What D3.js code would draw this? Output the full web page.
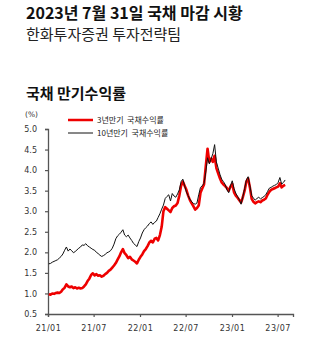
<!DOCTYPE html>
<html>
<head>
<meta charset="utf-8">
<script src="https://cdn.jsdelivr.net/npm/d3@7"></script>
<style>
  html, body { margin: 0; padding: 0; background: #fff; }
  svg { display: block; }
</style>
</head>
<body>
<svg id="chart" width="330" height="348"></svg>
<script>
// Weekly observations, first Monday of 2021 onward (% yield)
const startWeek = "2021-01-04";
const ktb3y = [
  0.98, 0.97, 1.00, 0.99, 1.01, 1.02, 1.01, 1.04, 1.10, 1.14,
  1.22, 1.17, 1.15, 1.17, 1.13, 1.15, 1.12, 1.14, 1.12, 1.13,
  1.17, 1.22, 1.30, 1.36, 1.45, 1.49, 1.44, 1.47, 1.43, 1.44,
  1.41, 1.43, 1.47, 1.50, 1.55, 1.58, 1.63, 1.68, 1.74, 1.82,
  1.90, 2.00, 2.08, 1.98, 1.93, 1.86, 1.89, 1.83, 1.80, 1.77,
  1.73, 1.82, 1.89, 1.95, 2.03, 2.08, 2.15, 2.24, 2.28, 2.24,
  2.33, 2.35, 2.29, 2.42, 2.62, 3.00, 3.10, 3.06, 3.02, 2.98,
  3.08, 3.12, 3.14, 3.20, 3.38, 3.62, 3.72, 3.62, 3.52, 3.38,
  3.27, 3.19, 3.12, 3.04, 3.08, 3.14, 3.45, 3.55, 3.65, 4.10,
  4.52, 4.20, 4.28, 4.20, 4.35, 4.05, 3.92, 3.80, 3.70, 3.65,
  3.61, 3.56, 3.50, 3.60, 3.66, 3.46, 3.38, 3.33, 3.27, 3.21,
  3.34, 3.50, 3.72, 3.80, 3.58, 3.30, 3.23, 3.19, 3.22, 3.24,
  3.22, 3.26, 3.28, 3.31, 3.40, 3.47, 3.52, 3.54, 3.56, 3.58,
  3.60, 3.68, 3.58, 3.62, 3.64
];
const ktb10y = [
  1.72, 1.73, 1.76, 1.78, 1.80, 1.82, 1.86, 1.90, 1.96, 2.05,
  2.13, 2.03, 2.08, 2.04, 1.99, 2.02, 2.06, 2.10, 2.13, 2.18,
  2.17, 2.21, 2.16, 2.13, 2.10, 2.07, 2.05, 2.00, 1.97, 1.93,
  1.90, 1.92, 1.95, 1.99, 2.01, 2.04, 2.10, 2.20, 2.33, 2.40,
  2.44, 2.49, 2.55, 2.42, 2.38, 2.42, 2.35, 2.29, 2.22, 2.18,
  2.14, 2.26, 2.35, 2.47, 2.55, 2.60, 2.64, 2.70, 2.74, 2.68,
  2.73, 2.76, 2.85, 2.94, 3.05, 3.15, 3.31, 3.36, 3.40, 3.25,
  3.43, 3.37, 3.34, 3.42, 3.52, 3.72, 3.78, 3.62, 3.47, 3.38,
  3.29, 3.23, 3.19, 3.17, 3.20, 3.40, 3.58, 3.62, 3.68, 3.95,
  4.30, 4.15, 4.27, 4.40, 4.62, 4.20, 4.05, 3.90, 3.78, 3.72,
  3.65, 3.52, 3.45, 3.62, 3.74, 3.55, 3.44, 3.36, 3.28, 3.17,
  3.35, 3.55, 3.76, 3.84, 3.62, 3.38, 3.32, 3.27, 3.31, 3.34,
  3.30, 3.33, 3.36, 3.40, 3.48, 3.56, 3.58, 3.61, 3.63, 3.65,
  3.70, 3.82, 3.66, 3.70, 3.76
];
const yTicks = [0.5, 1.0, 1.5, 2.0, 2.5, 3.0, 3.5, 4.0, 4.5, 5.0];
const xTickLabels = ["21/01", "21/07", "22/01", "22/07", "23/01", "23/07"];
const seriesNames = ["3년만기  국채수익률", "10년만기  국채수익률"];
const seriesColors = ["#ee0000", "#111111"];

const parse = d3.timeParse("%Y-%m-%d");
const parseTick = d3.timeParse("%y/%m");
const t0 = parse(startWeek);
const weeks = d3.range(ktb3y.length).map(i => d3.timeDay.offset(t0, 7 * i));

const svg = d3.select("#chart");
const cjk = "'Noto Sans CJK KR', 'Noto Sans', sans-serif";

// Header
svg.append("text").attr("x", 26).attr("y", 18.5)
  .attr("font-family", cjk).attr("font-size", 16).attr("font-weight", 700)
  .attr("fill", "#111").text("2023년 7월 31일 국채 마감 시황");
svg.append("text").attr("x", 26).attr("y", 39.5)
  .attr("font-family", cjk).attr("font-size", 15).attr("font-weight", 400)
  .attr("fill", "#222").text("한화투자증권 투자전략팀");
svg.append("text").attr("x", 26).attr("y", 99)
  .attr("font-family", cjk).attr("font-size", 15).attr("font-weight", 700)
  .attr("fill", "#111").text("국채 만기수익률");

// Scales
const x = d3.scaleTime()
  .domain([parse("2021-01-01"), parse("2023-08-31")])
  .range([48, 293]);
const y = d3.scaleLinear().domain([0.5, 5.0]).range([314, 129]);

const tickFont = "'DejaVu Sans', sans-serif";

// Y axis
const yAxis = svg.append("g").attr("transform", "translate(48,0)")
  .call(d3.axisLeft(y).tickValues(yTicks).tickFormat(d3.format(".1f")).tickSize(3).tickPadding(8));
// X axis
const xAxis = svg.append("g").attr("transform", "translate(0,314)")
  .call(d3.axisBottom(x).tickValues(xTickLabels.map(parseTick))
    .tickFormat((d, i) => xTickLabels[i]).tickSize(3).tickPadding(8));

[yAxis, xAxis].forEach(g => {
  g.select(".domain").attr("stroke", "#555").attr("stroke-width", 1.3);
  g.selectAll(".tick line").attr("stroke", "#555").attr("stroke-width", 1.2);
  g.selectAll(".tick text").attr("font-family", tickFont).attr("font-size", 8)
    .attr("fill", "#333");
});
xAxis.selectAll(".tick text").attr("letter-spacing", 0.5);

svg.append("text").attr("x", 25).attr("y", 117)
  .attr("font-family", tickFont).attr("font-size", 7.5).attr("fill", "#333").text("(%)");

// Lines: 3-year first, 10-year drawn on top
const line = d3.line().x((d, i) => x(weeks[i])).y(d => y(d));
svg.append("path").datum(ktb3y).attr("d", line)
  .attr("fill", "none").attr("stroke", seriesColors[0]).attr("stroke-width", 2.6)
  .attr("stroke-linejoin", "round");
svg.append("path").datum(ktb10y).attr("d", line)
  .attr("fill", "none").attr("stroke", seriesColors[1]).attr("stroke-width", 1)
  .attr("stroke-linejoin", "round");

// Legend
const legend = svg.append("g");
seriesNames.forEach((name, i) => {
  const ly = 120 + i * 13;
  legend.append("line").attr("x1", 68).attr("x2", 93).attr("y1", ly).attr("y2", ly)
    .attr("stroke", seriesColors[i]).attr("stroke-width", i === 0 ? 2.5 : 1);
  legend.append("text").attr("x", 97).attr("y", ly + 3)
    .attr("font-family", cjk).attr("font-size", 8).attr("fill", "#222")
    .attr("xml:space", "preserve").style("white-space", "pre").text(name);
});
</script>
</body>
</html>
